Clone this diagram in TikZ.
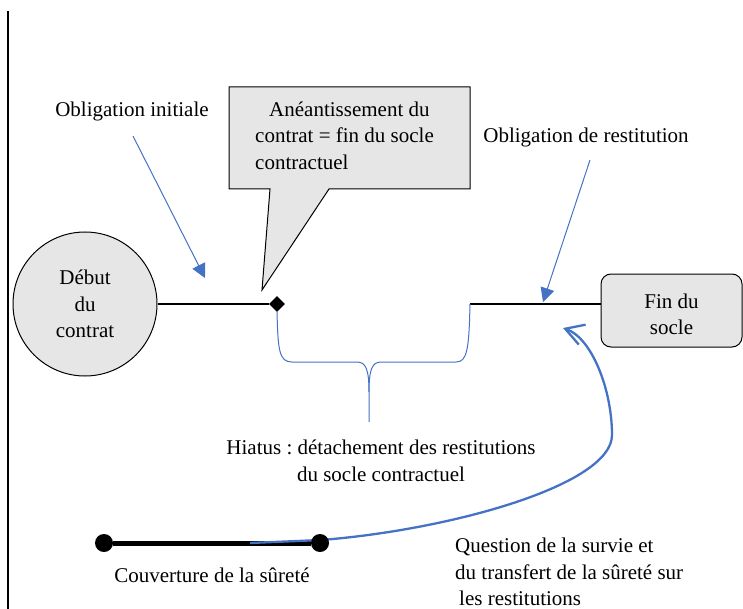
\documentclass[tikz,border=0pt]{standalone}
\usepackage{fontspec}
\setmainfont{Liberation Serif}
\usetikzlibrary{arrows.meta,shapes.geometric,backgrounds}
\definecolor{lineblue}{HTML}{4472C4}
\definecolor{boxgray}{HTML}{E6E6E6}
\begin{document}
\begin{tikzpicture}[x=1pt,y=-1pt,
  every node/.style={font=\fontsize{21}{26.5}\selectfont\frenchspacing},
  lbl/.style={inner sep=0pt},
  startcircle/.style={circle, draw, fill=boxgray, minimum size=144pt, inner sep=0pt, line width=1pt, align=center},
  endbox/.style={rectangle, rounded corners=10pt, draw, fill=boxgray, minimum width=141pt, minimum height=73pt, line width=1pt, align=center},
  callbox/.style={draw, fill=boxgray, line width=1pt},
  socle/.style={line width=2.6pt},
  pointer/.style={draw=lineblue, line width=1pt, -{Triangle[length=14pt,width=14pt]}},
  brace/.style={draw=lineblue, line width=1pt},
  survie/.style={draw=lineblue, line width=2.3pt, -{Straight Barb[length=18pt,width=21pt]}},
  enddot/.style={circle, fill=black, minimum size=18pt, inner sep=0pt},
  marge/.style={line width=2pt},
  couverture/.style={line width=5pt}
]
\useasboundingbox (0,0) rectangle (743,609);

% left margin line
\coordinate (m1) at (8,11);
\coordinate (m2) at (8,609);
\draw[marge] (m1) -- (m2);

% start circle and end box
\node[startcircle] (debut) at (85,304) {Début\\du\\contrat};
\node[endbox] (fin) at (671.5,310.5) {};
\node[lbl, align=center] (fintxt) at (671.5,314.5) {Fin du\\socle};
\node[diamond, fill=black, minimum size=16pt, inner sep=0pt] (dia) at (277,304) {};
\coordinate (gapR) at (470,304);
\draw[socle] (debut) -- (dia);
\draw[socle] (gapR) -- (gapR -| fin.west);

% callout
\coordinate (calltip) at (262,290);
\path[callbox] (229,87) -- (470,87) -- (470,189) -- (329,189) -- (calltip) -- (270,189) -- (229,189) -- cycle;
\node[lbl, align=left, anchor=west] (anea) at (255,135.7) {\hspace*{14pt}Anéantissement du\\contrat = fin du socle\\contractuel};

% obligation labels and arrows
\node[lbl, anchor=base] (oblinit) at (132,117) {Obligation initiale};
\coordinate (oi1) at (133,136);
\coordinate (oi2) at (205,278);
\draw[pointer] (oi1) -- (oi2);

\node[lbl, anchor=base] (oblrest) at (586,143) {Obligation de restitution};
\coordinate (or1) at (590,160);
\coordinate (or2) at (543,302);
\draw[pointer] (or1) -- (or2);

% brace (hiatus)
\coordinate (brtip) at (369,422);
\coordinate (brmid) at (369,392);
\draw[brace] (dia.south) .. controls (278,350) and (279,362) .. (292,362) -- (357,362) .. controls (366,362) and (369,370) .. (brmid) -- (brtip);
\draw[brace] (brmid) .. controls (369,370) and (372,362) .. (381,362) -- (456,362) .. controls (467,362) and (469,350) .. (gapR);

\node[lbl, align=center] (hiatus) at (381,461) {Hiatus : détachement des restitutions\\du socle contractuel};

% couverture de la surete
\node[enddot] (c1) at (104,543) {};
\node[enddot] (c2) at (320,543) {};
\coordinate (sv0) at (250,543);
\coordinate (svtip) at (563,328);
\begin{pgfonlayer}{background}
\draw[couverture] (c1) -- (c2);
\draw[survie] (sv0) -- (321,540) .. controls (450,530) and (612,485) .. (612,435) .. controls (612,390) and (592,338) .. (svtip);
\end{pgfonlayer}

\node[lbl, anchor=base] (couv) at (212,582) {Couverture de la sûreté};
\node[lbl, align=left, anchor=west] (quest) at (455,572) {Question de la survie et\\du transfert de la sûreté sur\\\hspace*{4pt}les restitutions};
\end{tikzpicture}
\end{document}
